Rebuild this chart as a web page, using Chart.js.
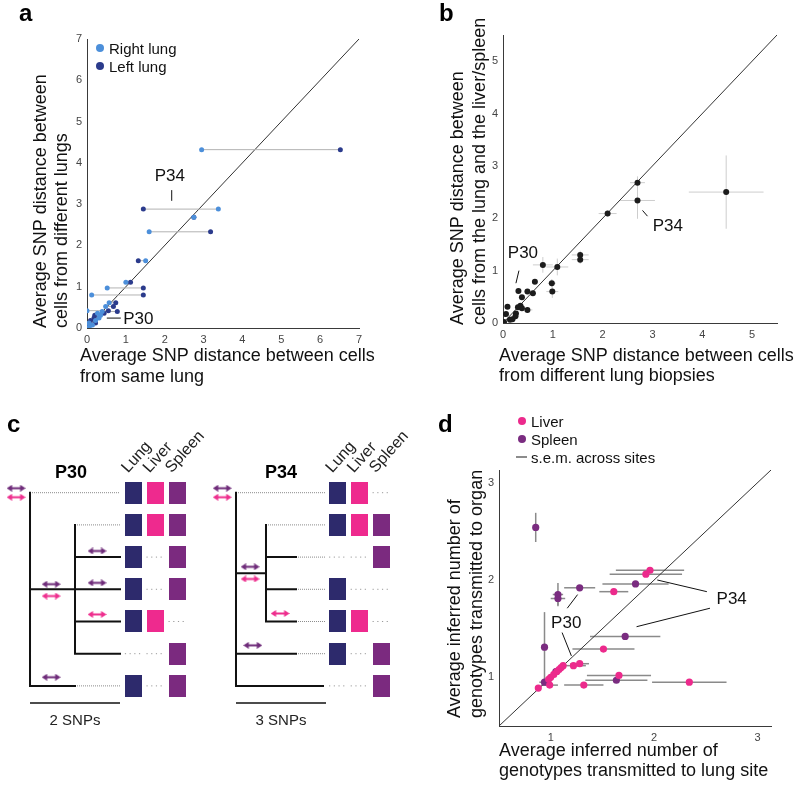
<!DOCTYPE html>
<html>
<head>
<meta charset="utf-8">
<script src="https://cdn.jsdelivr.net/npm/chart.js@4.4.1/dist/chart.umd.min.js"></script>
<style>
  body { margin: 0; background: #fff; width: 800px; height: 788px; position: relative; overflow: hidden; }
  canvas { position: absolute; }
</style>
</head>
<body>
<canvas id="pa" width="400" height="400" style="left:0;top:0"></canvas>
<canvas id="pb" width="400" height="400" style="left:400px;top:0"></canvas>
<canvas id="pd" width="400" height="388" style="left:400px;top:400px"></canvas>
<canvas id="pc1" width="205" height="330" style="left:0;top:400px"></canvas>
<canvas id="pc2" width="215" height="330" style="left:205px;top:400px;z-index:2"></canvas>
<script>
// ---- panel a: lung pairs (same y, right vs left lung x) ----
var aTicks = [0, 1, 2, 3, 4, 5, 6, 7];
var aRowY  = [4.32, 2.88, 2.68, 2.33, 1.63, 1.11, 0.97, 0.80, 0.61, 0.52, 0.42, 0.40, 0.36, 0.31, 0.24, 0.18, 0.12, 0.07, 0.03];
var aRight = [2.95, 3.38, 2.75, 1.60, 1.51, 1.00, 0.52, 0.12, 0.57, 0.48, 0.00, 0.39, 0.27, 0.35, 0.31, 0.22, 0.05, 0.14, 0.06];
var aLeft  = [6.52, 1.45, 2.75, 3.18, 1.32, 1.12, 1.45, 1.45, 0.74, 0.68, 0.55, 0.78, 0.44, 0.20, 0.18, 0.09, 0.22, 0.04, 0.01];

// ---- panel b: lung biopsies vs liver/spleen ----
var bTicksX = [0, 1, 2, 3, 4, 5];
var bTicksY = [0, 1, 2, 3, 4, 5];
var bX    = [2.70, 2.70, 4.48, 2.10, 1.55, 1.55, 1.09, 0.80, 0.98, 0.99, 0.64, 0.60, 0.49, 0.38, 0.31, 0.35, 0.38, 0.49, 0.26, 0.09, 0.06, 0.14, 0.19, 0.25, 0.02, 0.30];
var bY    = [2.68, 2.34, 2.50, 2.09, 1.30, 1.21, 1.07, 1.11, 0.76, 0.60, 0.79, 0.57, 0.60, 0.49, 0.61, 0.33, 0.28, 0.25, 0.18, 0.31, 0.17, 0.06, 0.07, 0.13, 0.02, 0.30];
var bXErr = [0.15, 0.35, 0.75, 0.18, 0.17, 0.17, 0.22, 0.20, 0.08, 0.12, 0.05, 0.05, 0.05, 0.04, 0.04, 0.05, 0.05, 0.10, 0.03, 0.03, 0.03, 0.03, 0.03, 0.03, 0.02, 0.04];
var bYErr = [0.12, 0.35, 0.70, 0.06, 0.08, 0.08, 0.16, 0.15, 0.08, 0.12, 0.04, 0.05, 0.04, 0.04, 0.04, 0.04, 0.03, 0.05, 0.03, 0.03, 0.03, 0.03, 0.03, 0.03, 0.02, 0.03];

// ---- panel d: genotypes transmitted ----
var dTicks = [1, 2, 3];
var dLiverX    = [1.96, 1.92, 1.61, 1.51, 1.28, 1.22, 1.66, 2.34, 1.32, 0.99, 0.88, 0.98, 1.00, 1.03, 1.06, 1.08, 1.10, 1.12];
var dLiverY    = [2.10, 2.06, 1.88, 1.29, 1.14, 1.12, 1.02, 0.95, 0.92, 0.92, 0.89, 0.98, 1.00, 1.03, 1.06, 1.08, 1.10, 1.12];
var dLiverXErr = [0.33, 0.35, 0.14, 0.30, 0.09, 0.12, 0.31, 0.36, 0.19, 0.08, 0, 0, 0, 0, 0, 0, 0, 0];
var dLiverYErr = [0, 0, 0, 0, 0, 0, 0, 0, 0, 0, 0, 0, 0, 0, 0, 0, 0, 0];
var dSpleenX    = [0.855, 1.07, 1.07, 1.28, 1.82, 1.72, 0.94, 1.635, 0.94, 1.05];
var dSpleenY    = [2.54, 1.85, 1.81, 1.92, 1.96, 1.42, 1.31, 0.97, 0.95, 1.06];
var dSpleenXErr = [0, 0.05, 0.07, 0.15, 0.32, 0.34, 0, 0.30, 0.05, 0];
var dSpleenYErr = [0.15, 0.12, 0.07, 0, 0, 0, 0.36, 0, 0, 0];

// ---- panel c: trees (x in SNPs, y in leaf rows) ----
var organs = ['Lung', 'Liver', 'Spleen'];
var p30Cells  = [[1,1,1],[1,1,1],[1,0,1],[1,0,1],[1,1,0],[0,0,1],[1,0,1]];
var p34Cells  = [[1,1,0],[1,1,1],[0,0,1],[1,0,0],[1,1,0],[1,0,1],[0,0,1]];
var p30Solid  = [[0,0,0,6],[0,3,1,3],[1,1,1,5],[1,2,2,2],[1,3,2,3],[1,4,2,4],[1,5,2,5],[0,6,1,6]];
var p30Dotted = [[0,0,2,0],[1,1,2,1],[1,6,2,6]];
var p34Solid  = [[0,0,0,6],[0,2.5,1,2.5],[1,1,1,4],[1,2,2,2],[1,3,2,3],[1,4,2,4],[0,5,2,5],[0,6,2.9,6]];
var p34Dotted = [[0,0,2.97,0],[1,1,2.97,1],[2,2,2.97,2],[2,3,2.97,3],[2,4,2.97,4],[2,5,2.97,5]];
// [x, row, organ index] ; 1 = liver, 2 = spleen
var p30Arrows = [[-0.31,-0.14,2],[-0.31,0.14,1],[0.47,2.84,2],[0.47,3.21,1],[1.49,1.81,2],[1.49,2.80,2],[1.49,3.78,1],[0.47,5.73,2]];
var p34Arrows = [[-0.46,-0.14,2],[-0.46,0.14,1],[0.47,2.30,2],[0.47,2.68,1],[1.47,3.75,1],[0.56,4.74,2]];
var p30Cols = [2.30, 2.78, 3.27];
var p34Cols = [3.39, 4.11, 4.84];

var FONT = '"Liberation Sans", Arial, Helvetica, sans-serif';
var blueR = '#4c8fda', blueL = '#2b3b8c';
var pink = '#ec2a8c', purple = '#7a2c80';
var organColors = ['#2d2a6c', '#ee2a8e', '#7b2a7f'];
var arrowColors = [null, '#ee2f8e', '#6f2c7a'];

Chart.defaults.font.family = FONT;
Chart.defaults.animation = false;

function segs(list) {
    var out = [];
    list.forEach(function (s) {
        out.push({ x: s[0], y: s[1] }, { x: s[2], y: s[3] }, { x: NaN, y: NaN });
    });
    return out;
}

function txt(c, s, x, y, font, o) {
    o = o || {};
    c.save();
    c.font = font;
    c.fillStyle = o.color || '#111';
    c.textAlign = o.align || 'left';
    c.textBaseline = o.baseline || 'alphabetic';
    c.translate(x, y);
    if (o.rot) c.rotate(o.rot * Math.PI / 180);
    c.fillText(s, 0, 0);
    c.restore();
}

function line(c, x1, y1, x2, y2, color, w) {
    c.save();
    c.strokeStyle = color || '#111';
    c.lineWidth = w || 1;
    c.beginPath();
    c.moveTo(x1, y1);
    c.lineTo(x2, y2);
    c.stroke();
    c.restore();
}

function titleY(c, lines, xs, bottom) {
    lines.forEach(function (s, i) { txt(c, s, xs[i], bottom, '18px ' + FONT, { rot: -90 }); });
}
function titleX(c, lines, left, ys) {
    lines.forEach(function (s, i) { txt(c, s, left, ys[i], '18px ' + FONT); });
}
function legendDot(c, x, y, color, label) {
    c.save();
    c.fillStyle = color;
    c.beginPath();
    c.arc(x, y, 4, 0, Math.PI * 2);
    c.fill();
    c.restore();
    txt(c, label, x + 9, y + 5.5, '15px ' + FONT);
}

// error bars drawn under the points
var errorBars = {
    id: 'errorBars',
    beforeDatasetsDraw: function (chart) {
        var c = chart.ctx, xs = chart.scales.x, ys = chart.scales.y;
        chart.data.datasets.forEach(function (ds) {
            if (!ds.errX) return;
            c.save();
            c.strokeStyle = ds.errColor;
            c.lineWidth = ds.errWidth;
            ds.data.forEach(function (p, i) {
                var ex = ds.errX[i], ey = ds.errY[i];
                c.beginPath();
                if (ex) {
                    c.moveTo(xs.getPixelForValue(p.x - ex), ys.getPixelForValue(p.y));
                    c.lineTo(xs.getPixelForValue(p.x + ex), ys.getPixelForValue(p.y));
                }
                if (ey) {
                    c.moveTo(xs.getPixelForValue(p.x), ys.getPixelForValue(p.y - ey));
                    c.lineTo(xs.getPixelForValue(p.x), ys.getPixelForValue(p.y + ey));
                }
                c.stroke();
            });
            c.restore();
        });
    }
};

function overlay(draw) {
    return {
        id: 'overlay',
        afterDraw: function (chart) {
            var X = function (v) { return chart.scales.x.getPixelForValue(v); };
            var Y = function (v) { return chart.scales.y.getPixelForValue(v); };
            draw(chart.ctx, X, Y, chart);
        }
    };
}

function axis(min, max, ticks, isY) {
    return {
        type: 'linear', min: min, max: max,
        grid: { display: false, drawTicks: false },
        border: { display: true, color: '#3a3a3a', width: 1 },
        ticks: { color: '#444', font: { size: 11 }, padding: 5 },
        afterBuildTicks: function (s) { s.ticks = ticks.map(function (v) { return { value: v }; }); },
        afterFit: function (s) { if (isY) s.width = 27; else s.height = 20; }
    };
}

function plotOptions(pad, x, y) {
    return {
        responsive: false,
        animation: false,
        events: [],
        layout: { padding: pad, autoPadding: false },
        plugins: { legend: { display: false }, tooltip: { enabled: false } },
        scales: { x: x, y: y }
    };
}

function pts(xs, ys) { return xs.map(function (v, i) { return { x: v, y: ys[i] }; }); }

var F17 = '17px ' + FONT;

// Panel a
new Chart(document.getElementById('pa'), {
    type: 'scatter',
    data: {
        datasets: [
            { label: 'Right lung', data: pts(aRight, aRowY), backgroundColor: blueR, pointBackgroundColor: blueR, pointBorderWidth: 0, pointRadius: 2.5 },
            { label: 'Left lung', data: pts(aLeft, aRowY), backgroundColor: blueL, pointBackgroundColor: blueL, pointBorderWidth: 0, pointRadius: 2.5 },
            { data: segs(aRowY.map(function (y, i) { return [aRight[i], y, aLeft[i], y]; })), showLine: true, borderColor: '#b3b3b3', borderWidth: 1, pointRadius: 0 },
            { data: [{ x: 0, y: 0 }, { x: 7, y: 7 }], showLine: true, borderColor: '#333', borderWidth: 1, pointRadius: 0 }
        ]
    },
    options: plotOptions({ left: 60, top: 39, right: 41, bottom: 52 }, axis(0, 7, aTicks, false), axis(0, 7, aTicks, true)),
    plugins: [overlay(function (c, X, Y) {
        txt(c, 'a', 19, 21, 'bold 24px ' + FONT, { color: '#000' });
        titleY(c, ['Average SNP distance between', 'cells from different lungs'], [46, 67], 328);
        titleX(c, ['Average SNP distance between cells', 'from same lung'], 80, [361, 382]);
        legendDot(c, 100, 48, blueR, 'Right lung');
        legendDot(c, 100, 66, blueL, 'Left lung');
        txt(c, 'P34', X(2.13), Y(3.55), F17, { align: 'center' });
        line(c, X(2.18), Y(3.34), X(2.18), Y(3.08));
        line(c, X(0.51), Y(0.24), X(0.87), Y(0.24));
        txt(c, 'P30', X(0.93), Y(0.24) + 6, F17);
    })]
});

// Panel b
new Chart(document.getElementById('pb'), {
    type: 'scatter',
    data: {
        datasets: [
            { data: pts(bX, bY), backgroundColor: '#1c1c1c', pointBackgroundColor: '#1c1c1c', pointBorderWidth: 0, pointRadius: 3,
              errX: bXErr, errY: bYErr, errColor: '#cdcdcd', errWidth: 1 },
            { data: [{ x: 0, y: 0 }, { x: 5.5, y: 5.5 }], showLine: true, borderColor: '#333', borderWidth: 1, pointRadius: 0 }
        ]
    },
    options: plotOptions({ left: 76, top: 35, right: 23, bottom: 57 }, axis(0, 5.5, bTicksX, false), axis(0, 5.5, bTicksY, true)),
    plugins: [errorBars, overlay(function (c, X, Y) {
        txt(c, 'b', 39, 21, 'bold 24px ' + FONT, { color: '#000' });
        titleY(c, ['Average SNP distance between', 'cells from the lung and the liver/spleen'], [63, 85], 325);
        titleX(c, ['Average SNP distance between cells', 'from different lung biopsies'], 99, [361, 381]);
        txt(c, 'P30', X(0.40), Y(1.35) + 6, F17, { align: 'center' });
        line(c, X(0.32), Y(1.00), X(0.26), Y(0.76));
        txt(c, 'P34', X(3.31), Y(1.88) + 6, F17, { align: 'center' });
        line(c, X(2.80), Y(2.15), X(2.90), Y(2.04));
    })]
});

// Panel d
new Chart(document.getElementById('pd'), {
    type: 'scatter',
    data: {
        datasets: [
            { label: 'Liver', data: pts(dLiverX, dLiverY), backgroundColor: pink, pointBackgroundColor: pink, pointBorderWidth: 0, pointRadius: 3.6,
              errX: dLiverXErr, errY: dLiverYErr, errColor: '#8a8a8a', errWidth: 1.5 },
            { label: 'Spleen', data: pts(dSpleenX, dSpleenY), backgroundColor: purple, pointBackgroundColor: purple, pointBorderWidth: 0, pointRadius: 3.6,
              errX: dSpleenXErr, errY: dSpleenYErr, errColor: '#8a8a8a', errWidth: 1.5 },
            { data: [{ x: 0.5, y: 0.5 }, { x: 3.13, y: 3.13 }], showLine: true, borderColor: '#333', borderWidth: 1, pointRadius: 0 }
        ]
    },
    options: plotOptions({ left: 72, top: 70, right: 29, bottom: 42 }, axis(0.5, 3.13, dTicks, false), axis(0.5, 3.13, dTicks, true)),
    plugins: [errorBars, overlay(function (c, X, Y) {
        txt(c, 'd', 38, 32, 'bold 24px ' + FONT, { color: '#000' });
        legendDot(c, 122, 21, pink, 'Liver');
        legendDot(c, 122, 39, purple, 'Spleen');
        line(c, 116, 57, 127, 57, '#666', 1.5);
        txt(c, 's.e.m. across sites', 131, 62.5, '15px ' + FONT);
        titleY(c, ['Average inferred number of', 'genotypes transmitted to organ'], [60, 82], 318);
        titleX(c, ['Average inferred number of', 'genotypes transmitted to lung site'], 99, [356, 376]);
        txt(c, 'P34', X(2.75), Y(1.82) + 6, F17, { align: 'center' });
        line(c, X(2.51), Y(1.88), X(2.03), Y(2.00));
        line(c, X(2.54), Y(1.71), X(1.83), Y(1.52));
        txt(c, 'P30', X(1.15), Y(1.57) + 6, F17, { align: 'center' });
        line(c, X(1.16), Y(1.71), X(1.26), Y(1.85));
        line(c, X(1.11), Y(1.46), X(1.20), Y(1.22));
    })]
});

// Panel c
function boxImg(color) {
    var cv = document.createElement('canvas');
    cv.width = 17; cv.height = 22;
    var g = cv.getContext('2d');
    g.fillStyle = color;
    g.fillRect(0, 0, 17, 22);
    return cv;
}
function arrowImg(color) {
    var cv = document.createElement('canvas');
    cv.width = 19; cv.height = 7;
    var g = cv.getContext('2d');
    g.fillStyle = color;
    g.fillRect(4, 2.5, 11, 2);
    g.beginPath(); g.moveTo(0, 3.5); g.lineTo(5.5, 0); g.lineTo(5.5, 7); g.closePath(); g.fill();
    g.beginPath(); g.moveTo(19, 3.5); g.lineTo(13.5, 0); g.lineTo(13.5, 7); g.closePath(); g.fill();
    return cv;
}

function treeChart(id, t) {
    var half = (t.cols[1] - t.cols[0]) * 0.4;
    var empty = [];
    t.cells.forEach(function (row, r) {
        row.forEach(function (v, j) { if (!v) empty.push([t.cols[j] - half, r, t.cols[j] + half, r]); });
    });
    var datasets = [];
    [1, 2].forEach(function (k) {
        datasets.push({
            data: t.arrows.filter(function (a) { return a[2] === k; }).map(function (a) { return { x: a[0], y: a[1] }; }),
            pointStyle: arrowImg(arrowColors[k]), pointRadius: 5
        });
    });
    organs.forEach(function (o, j) {
        datasets.push({
            data: t.cells.map(function (row, r) { return row[j] ? { x: t.cols[j], y: r } : null; }).filter(Boolean),
            pointStyle: boxImg(organColors[j]), pointRadius: 5
        });
    });
    datasets.push({ data: segs(t.solid), showLine: true, borderColor: '#111', borderWidth: 2, pointRadius: 0, borderCapStyle: 'square' });
    datasets.push({ data: segs(t.dotted), showLine: true, borderColor: '#8a8a8a', borderWidth: 1, borderDash: [1, 1], pointRadius: 0 });
    datasets.push({ data: segs(empty), showLine: true, borderColor: '#9a9a9a', borderWidth: 1, borderDash: [1.2, 3.5], pointRadius: 0 });
    datasets.push({ data: [{ x: 0, y: 6.53 }, { x: t.scale, y: 6.53 }], showLine: true, borderColor: '#111', borderWidth: 1.5, pointRadius: 0 });

    new Chart(document.getElementById(id), {
        type: 'scatter',
        data: { datasets: datasets },
        options: {
            responsive: false, animation: false, events: [],
            layout: { padding: 0, autoPadding: false },
            plugins: { legend: { display: false }, tooltip: { enabled: false } },
            scales: {
                x: { type: 'linear', display: false, min: t.xMin, max: t.xMax },
                y: { type: 'linear', display: false, min: -2.879, max: 7.37, reverse: true }
            }
        },
        plugins: [overlay(function (c, X, Y) {
            if (t.letter) txt(c, t.letter, 7, 32, 'bold 24px ' + FONT, { color: '#000' });
            txt(c, t.name, X(t.nameX), Y(-0.65) + 6, 'bold 18px ' + FONT, { align: 'center', color: '#000' });
            organs.forEach(function (o, j) {
                txt(c, o, X(t.cols[j]) - 5.5, Y(-0.6), '16px ' + FONT, { rot: -48, color: '#222' });
            });
            txt(c, t.scale + ' SNPs', X(t.scale / 2), Y(7.04) + 5.5, '15px ' + FONT, { align: 'center', color: '#222' });
        })]
    });
}

treeChart('pc1', { cells: p30Cells, solid: p30Solid, dotted: p30Dotted, arrows: p30Arrows, cols: p30Cols,
    scale: 2, xMin: -0.667, xMax: 3.889, name: 'P30', nameX: 0.91, letter: 'c' });
treeChart('pc2', { cells: p34Cells, solid: p34Solid, dotted: p34Dotted, arrows: p34Arrows, cols: p34Cols,
    scale: 3, xMin: -1.033, xMax: 6.133, name: 'P34', nameX: 1.5 });
</script>
</body>
</html>
